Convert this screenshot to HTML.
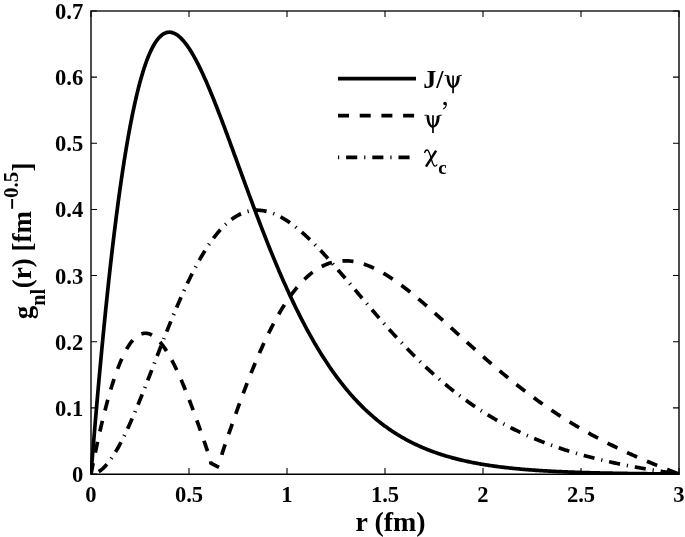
<!DOCTYPE html>
<html><head><meta charset="utf-8"><style>
html,body{margin:0;padding:0;background:#fff;width:685px;height:537px;overflow:hidden}
svg{display:block;will-change:transform}
.t{font-size:22.6px}
</style></head><body>
<svg width="685" height="537" viewBox="0 0 685 537">
<defs><clipPath id="cp"><rect x="90" y="10" width="590" height="465"/></clipPath></defs>
<rect width="685" height="537" fill="#fff"/>
<g fill="none" stroke="#000" stroke-linejoin="round">
<path d="M91 10.2V474M679 10.2V474M90.2 11H679.8" stroke-width="1.6" stroke="#222"/>
<path d="M90.2 474.3H679.8" stroke-width="1.4" stroke="#000"/>
<path d="M91.00 474V468M91.00 11V17M189.00 474V468M189.00 11V17M287.00 474V468M287.00 11V17M385.00 474V468M385.00 11V17M483.00 474V468M483.00 11V17M581.00 474V468M581.00 11V17M679.00 474V468M679.00 11V17M91 474.00H97M679 474.00H673M91 407.86H97M679 407.86H673M91 341.71H97M679 341.71H673M91 275.57H97M679 275.57H673M91 209.43H97M679 209.43H673M91 143.29H97M679 143.29H673M91 77.14H97M679 77.14H673M91 11.00H97M679 11.00H673" stroke-width="1.1"/>
<g clip-path="url(#cp)">
<path d="M91.00 474.00L91.98 461.82L92.96 449.81L93.94 437.97L94.92 426.31L95.90 414.82L96.88 403.51L97.86 392.38L98.84 381.42L99.82 370.65L100.80 360.05L101.78 349.63L102.76 339.40L103.74 329.35L104.72 319.47L105.70 309.78L106.68 300.28L107.66 290.95L108.64 281.81L109.62 272.85L110.60 264.07L111.58 255.47L112.56 247.06L113.54 238.83L114.52 230.77L115.50 222.90L116.48 215.21L117.46 207.70L118.44 200.37L119.42 193.21L120.40 186.23L121.38 179.43L122.36 172.80L123.34 166.35L124.32 160.07L125.30 153.96L126.28 148.02L127.26 142.25L128.24 136.65L129.22 131.22L130.20 125.96L131.18 120.85L132.16 115.91L133.14 111.14L134.12 106.52L135.10 102.06L136.08 97.76L137.06 93.61L138.04 89.62L139.02 85.78L140.00 82.09L140.98 78.54L141.96 75.15L142.94 71.90L143.92 68.79L144.90 65.83L145.88 63.00L146.86 60.31L147.84 57.76L148.82 55.35L149.80 53.06L150.78 50.91L151.76 48.88L152.74 46.98L153.72 45.21L154.70 43.56L155.68 42.03L156.66 40.62L157.64 39.32L158.62 38.14L159.60 37.08L160.58 36.12L161.56 35.28L162.54 34.54L163.52 33.91L164.50 33.38L165.48 32.95L166.46 32.62L167.44 32.39L168.42 32.26L169.40 32.21L170.38 32.27L171.36 32.41L172.34 32.64L173.32 32.95L174.30 33.35L175.28 33.84L176.26 34.40L177.24 35.04L178.22 35.76L179.20 36.56L180.18 37.42L181.16 38.37L182.14 39.38L183.12 40.45L184.10 41.60L185.08 42.81L186.06 44.08L187.04 45.42L188.02 46.81L189.00 48.26L189.98 49.77L190.96 51.34L191.94 52.95L192.92 54.62L193.90 56.34L194.88 58.11L195.86 59.92L196.84 61.78L197.82 63.69L198.80 65.64L199.78 67.63L200.76 69.65L201.74 71.72L202.72 73.83L203.70 75.97L204.68 78.14L205.66 80.35L206.64 82.59L207.62 84.86L208.60 87.16L209.58 89.48L210.56 91.84L211.54 94.22L212.52 96.62L213.50 99.05L214.48 101.50L215.46 103.97L216.44 106.46L217.42 108.97L218.40 111.49L219.38 114.04L220.36 116.60L221.34 119.17L222.32 121.76L223.30 124.36L224.28 126.97L225.26 129.60L226.24 132.23L227.22 134.87L228.20 137.53L229.18 140.18L230.16 142.85L231.14 145.52L232.12 148.20L233.10 150.88L234.08 153.56L235.06 156.25L236.04 158.94L237.02 161.63L238.00 164.32L238.98 167.01L239.96 169.70L240.94 172.39L241.92 175.08L242.90 177.76L243.88 180.45L244.86 183.12L245.84 185.80L246.82 188.47L247.80 191.13L248.78 193.79L249.76 196.44L250.74 199.09L251.72 201.72L252.70 204.36L253.68 206.98L254.66 209.59L255.64 212.20L256.62 214.79L257.60 217.38L258.58 219.95L259.56 222.52L260.54 225.07L261.52 227.61L262.50 230.15L263.48 232.66L264.46 235.17L265.44 237.67L266.42 240.15L267.40 242.62L268.38 245.07L269.36 247.52L270.34 249.95L271.32 252.36L272.30 254.76L273.28 257.15L274.26 259.52L275.24 261.88L276.22 264.22L277.20 266.55L278.18 268.86L279.16 271.15L280.14 273.43L281.12 275.70L282.10 277.95L283.08 280.18L284.06 282.40L285.04 284.60L286.02 286.78L287.00 288.95L287.98 291.10L288.96 293.24L289.94 295.35L290.92 297.46L291.90 299.54L292.88 301.61L293.86 303.66L294.84 305.69L295.82 307.71L296.80 309.71L297.78 311.69L298.76 313.66L299.74 315.61L300.72 317.54L301.70 319.46L302.68 321.35L303.66 323.23L304.64 325.10L305.62 326.94L306.60 328.77L307.58 330.59L308.56 332.38L309.54 334.16L310.52 335.92L311.50 337.67L312.48 339.39L313.46 341.10L314.44 342.80L315.42 344.48L316.40 346.14L317.38 347.78L318.36 349.41L319.34 351.02L320.32 352.62L321.30 354.19L322.28 355.76L323.26 357.30L324.24 358.83L325.22 360.35L326.20 361.84L327.18 363.33L328.16 364.79L329.14 366.24L330.12 367.68L331.10 369.10L332.08 370.50L333.06 371.89L334.04 373.26L335.02 374.62L336.00 375.96L336.98 377.29L337.96 378.60L338.94 379.90L339.92 381.18L340.90 382.45L341.88 383.70L342.86 384.94L343.84 386.17L344.82 387.38L345.80 388.58L346.78 389.76L347.76 390.93L348.74 392.08L349.72 393.23L350.70 394.35L351.68 395.47L352.66 396.57L353.64 397.66L354.62 398.73L355.60 399.79L356.58 400.84L357.56 401.88L358.54 402.90L359.52 403.91L360.50 404.91L361.48 405.90L362.46 406.87L363.44 407.83L364.42 408.78L365.40 409.72L366.38 410.65L367.36 411.56L368.34 412.47L369.32 413.36L370.30 414.24L371.28 415.11L372.26 415.96L373.24 416.81L374.22 417.65L375.20 418.47L376.18 419.29L377.16 420.09L378.14 420.88L379.12 421.67L380.10 422.44L381.08 423.20L382.06 423.95L383.04 424.70L384.02 425.43L385.00 426.15L385.98 426.86L386.96 427.57L387.94 428.26L388.92 428.95L389.90 429.62L390.88 430.29L391.86 430.95L392.84 431.60L393.82 432.24L394.80 432.87L395.78 433.49L396.76 434.10L397.74 434.71L398.72 435.31L399.70 435.90L400.68 436.48L401.66 437.05L402.64 437.62L403.62 438.17L404.60 438.72L405.58 439.26L406.56 439.80L407.54 440.33L408.52 440.84L409.50 441.36L410.48 441.86L411.46 442.36L412.44 442.85L413.42 443.33L414.40 443.81L415.38 444.28L416.36 444.74L417.34 445.20L418.32 445.65L419.30 446.09L420.28 446.53L421.26 446.96L422.24 447.39L423.22 447.81L424.20 448.22L425.18 448.63L426.16 449.03L427.14 449.42L428.12 449.81L429.10 450.19L430.08 450.57L431.06 450.94L432.04 451.31L433.02 451.67L434.00 452.03L434.98 452.38L435.96 452.72L436.94 453.06L437.92 453.40L438.90 453.73L439.88 454.06L440.86 454.38L441.84 454.69L442.82 455.00L443.80 455.31L444.78 455.61L445.76 455.91L446.74 456.20L447.72 456.49L448.70 456.78L449.68 457.06L450.66 457.33L451.64 457.60L452.62 457.87L453.60 458.13L454.58 458.39L455.56 458.65L456.54 458.90L457.52 459.15L458.50 459.39L459.48 459.63L460.46 459.87L461.44 460.10L462.42 460.33L463.40 460.56L464.38 460.78L465.36 461.00L466.34 461.21L467.32 461.42L468.30 461.63L469.28 461.84L470.26 462.04L471.24 462.24L472.22 462.44L473.20 462.63L474.18 462.82L475.16 463.01L476.14 463.19L477.12 463.37L478.10 463.55L479.08 463.73L480.06 463.90L481.04 464.07L482.02 464.24L483.00 464.40L483.98 464.56L484.96 464.72L485.94 464.88L486.92 465.03L487.90 465.19L488.88 465.34L489.86 465.48L490.84 465.63L491.82 465.77L492.80 465.91L493.78 466.05L494.76 466.19L495.74 466.32L496.72 466.45L497.70 466.58L498.68 466.71L499.66 466.83L500.64 466.96L501.62 467.08L502.60 467.20L503.58 467.32L504.56 467.43L505.54 467.55L506.52 467.66L507.50 467.77L508.48 467.88L509.46 467.98L510.44 468.09L511.42 468.19L512.40 468.29L513.38 468.39L514.36 468.49L515.34 468.59L516.32 468.68L517.30 468.77L518.28 468.87L519.26 468.96L520.24 469.05L521.22 469.13L522.20 469.22L523.18 469.30L524.16 469.39L525.14 469.47L526.12 469.55L527.10 469.63L528.08 469.71L529.06 469.78L530.04 469.86L531.02 469.93L532.00 470.01L532.98 470.08L533.96 470.15L534.94 470.22L535.92 470.29L536.90 470.35L537.88 470.42L538.86 470.48L539.84 470.55L540.82 470.61L541.80 470.67L542.78 470.73L543.76 470.79L544.74 470.85L545.72 470.91L546.70 470.97L547.68 471.02L548.66 471.08L549.64 471.13L550.62 471.18L551.60 471.24L552.58 471.29L553.56 471.34L554.54 471.39L555.52 471.44L556.50 471.48L557.48 471.53L558.46 471.58L559.44 471.62L560.42 471.67L561.40 471.71L562.38 471.75L563.36 471.80L564.34 471.84L565.32 471.88L566.30 471.92L567.28 471.96L568.26 472.00L569.24 472.04L570.22 472.08L571.20 472.11L572.18 472.15L573.16 472.19L574.14 472.22L575.12 472.26L576.10 472.29L577.08 472.32L578.06 472.36L579.04 472.39L580.02 472.42L581.00 472.45L581.98 472.48L582.96 472.51L583.94 472.54L584.92 472.57L585.90 472.60L586.88 472.63L587.86 472.66L588.84 472.69L589.82 472.71L590.80 472.74L591.78 472.77L592.76 472.79L593.74 472.82L594.72 472.84L595.70 472.87L596.68 472.89L597.66 472.91L598.64 472.94L599.62 472.96L600.60 472.98L601.58 473.00L602.56 473.03L603.54 473.05L604.52 473.07L605.50 473.09L606.48 473.11L607.46 473.13L608.44 473.15L609.42 473.17L610.40 473.19L611.38 473.21L612.36 473.22L613.34 473.24L614.32 473.26L615.30 473.28L616.28 473.30L617.26 473.31L618.24 473.33L619.22 473.35L620.20 473.36L621.18 473.38L622.16 473.39L623.14 473.41L624.12 473.42L625.10 473.44L626.08 473.45L627.06 473.47L628.04 473.48L629.02 473.50L630.00 473.51L630.98 473.52L631.96 473.54L632.94 473.55L633.92 473.56L634.90 473.58L635.88 473.59L636.86 473.60L637.84 473.61L638.82 473.62L639.80 473.64L640.78 473.65L641.76 473.66L642.74 473.67L643.72 473.68L644.70 473.69L645.68 473.70L646.66 473.71L647.64 473.73L648.62 473.74L649.60 473.75L650.58 473.76L651.56 473.77L652.54 473.78L653.52 473.79L654.50 473.79L655.48 473.80L656.46 473.81L657.44 473.82L658.42 473.83L659.40 473.84L660.38 473.85L661.36 473.86L662.34 473.87L663.32 473.88L664.30 473.88L665.28 473.89L666.26 473.90L667.24 473.91L668.22 473.92L669.20 473.92L670.18 473.93L671.16 473.94L672.14 473.95L673.12 473.96L674.10 473.96L675.08 473.97L676.06 473.98L677.04 473.99L678.02 473.99L679.00 474.00" stroke-width="3.7"/>
<path d="M91.00 474.00L91.98 468.99L92.96 464.07L93.94 459.22L94.92 454.45L95.90 449.77L96.88 445.16L97.86 440.65L98.84 436.21L99.82 431.87L100.80 427.61L101.78 423.44L102.76 419.36L103.74 415.37L104.72 411.47L105.70 407.67L106.68 403.95L107.66 400.33L108.64 396.81L109.62 393.37L110.60 390.04L111.58 386.79L112.56 383.65L113.54 380.60L114.52 377.64L115.50 374.78L116.48 372.02L117.46 369.36L118.44 366.79L119.42 364.32L120.40 361.95L121.38 359.67L122.36 357.49L123.34 355.41L124.32 353.42L125.30 351.53L126.28 349.73L127.26 348.03L128.24 346.43L129.22 344.92L130.20 343.51L131.18 342.19L132.16 340.96L133.14 339.83L134.12 338.79L135.10 337.84L136.08 336.98L137.06 336.21L138.04 335.53L139.02 334.94L140.00 334.44L140.98 334.03L141.96 333.71L142.94 333.47L143.92 333.31L144.90 333.24L145.88 333.25L146.86 333.35L147.84 333.52L148.82 333.78L149.80 334.11L150.78 334.53L151.76 335.02L152.74 335.58L153.72 336.23L154.70 336.94L155.68 337.73L156.66 338.59L157.64 339.52L158.62 340.52L159.60 341.59L160.58 342.73L161.56 343.93L162.54 345.19L163.52 346.52L164.50 347.91L165.48 349.36L166.46 350.88L167.44 352.45L168.42 354.07L169.40 355.76L170.38 357.49L171.36 359.28L172.34 361.13L173.32 363.02L174.30 364.96L175.28 366.95L176.26 368.99L177.24 371.07L178.22 373.20L179.20 375.37L180.18 377.58L181.16 379.84L182.14 382.13L183.12 384.46L184.10 386.83L185.08 389.23L186.06 391.67L187.04 394.14L188.02 396.64L189.00 399.17L189.98 401.73L190.96 404.32L191.94 406.93L192.92 409.57L193.90 412.24L194.88 414.93L195.86 417.64L196.84 420.37L197.82 423.12L198.80 425.89L199.78 428.68L200.76 431.48L201.74 434.30L202.72 437.14L203.70 439.98L204.68 442.84L205.66 445.71L206.64 448.59L207.62 451.48L208.60 454.37L209.58 457.27L210.56 460.18L210.80 463.10L219.00 467.40" stroke-width="3.7" stroke-dasharray="11 10.7"/>
<path d="M219.48 465.29L222.32 452.82L223.30 449.92L224.28 447.03L225.26 444.14L226.24 441.27L227.22 438.40L228.20 435.54L229.18 432.70L230.16 429.86L231.14 427.04L232.12 424.22L233.10 421.43L234.08 418.64L235.06 415.87L236.04 413.12L237.02 410.38L238.00 407.65L238.98 404.95L239.96 402.26L240.94 399.59L241.92 396.93L242.90 394.30L243.88 391.68L244.86 389.09L245.84 386.52L246.82 383.96L247.80 381.43L248.78 378.92L249.76 376.43L250.74 373.96L251.72 371.52L252.70 369.10L253.68 366.70L254.66 364.33L255.64 361.98L256.62 359.65L257.60 357.35L258.58 355.08L259.56 352.83L260.54 350.61L261.52 348.41L262.50 346.24L263.48 344.09L264.46 341.97L265.44 339.88L266.42 337.81L267.40 335.77L268.38 333.76L269.36 331.78L270.34 329.82L271.32 327.90L272.30 326.00L273.28 324.12L274.26 322.28L275.24 320.46L276.22 318.68L277.20 316.92L278.18 315.18L279.16 313.48L280.14 311.81L281.12 310.16L282.10 308.55L283.08 306.96L284.06 305.40L285.04 303.87L286.02 302.36L287.00 300.89L287.98 299.44L288.96 298.03L289.94 296.64L290.92 295.28L291.90 293.95L292.88 292.64L293.86 291.37L294.84 290.12L295.82 288.90L296.80 287.71L297.78 286.55L298.76 285.42L299.74 284.31L300.72 283.23L301.70 282.18L302.68 281.15L303.66 280.16L304.64 279.19L305.62 278.25L306.60 277.33L307.58 276.44L308.56 275.58L309.54 274.75L310.52 273.94L311.50 273.15L312.48 272.40L313.46 271.67L314.44 270.96L315.42 270.28L316.40 269.63L317.38 269.00L318.36 268.39L319.34 267.81L320.32 267.26L321.30 266.73L322.28 266.22L323.26 265.74L324.24 265.28L325.22 264.85L326.20 264.44L327.18 264.05L328.16 263.68L329.14 263.34L330.12 263.02L331.10 262.72L332.08 262.45L333.06 262.19L334.04 261.96L335.02 261.75L336.00 261.56L336.98 261.39L337.96 261.25L338.94 261.12L339.92 261.02L340.90 260.93L341.88 260.86L342.86 260.82L343.84 260.79L344.82 260.78L345.80 260.79L346.78 260.82L347.76 260.87L348.74 260.94L349.72 261.02L350.70 261.13L351.68 261.25L352.66 261.38L353.64 261.54L354.62 261.71L355.60 261.90L356.58 262.10L357.56 262.32L358.54 262.56L359.52 262.81L360.50 263.08L361.48 263.37L362.46 263.67L363.44 263.98L364.42 264.31L365.40 264.65L366.38 265.01L367.36 265.38L368.34 265.76L369.32 266.16L370.30 266.57L371.28 267.00L372.26 267.43L373.24 267.88L374.22 268.35L375.20 268.82L376.18 269.31L377.16 269.81L378.14 270.32L379.12 270.84L380.10 271.37L381.08 271.91L382.06 272.47L383.04 273.03L384.02 273.61L385.00 274.19L385.98 274.79L386.96 275.39L387.94 276.01L388.92 276.63L389.90 277.26L390.88 277.91L391.86 278.56L392.84 279.22L393.82 279.88L394.80 280.56L395.78 281.24L396.76 281.94L397.74 282.63L398.72 283.34L399.70 284.06L400.68 284.78L401.66 285.51L402.64 286.24L403.62 286.98L404.60 287.73L405.58 288.48L406.56 289.25L407.54 290.01L408.52 290.78L409.50 291.56L410.48 292.34L411.46 293.13L412.44 293.93L413.42 294.73L414.40 295.53L415.38 296.34L416.36 297.15L417.34 297.97L418.32 298.79L419.30 299.61L420.28 300.44L421.26 301.28L422.24 302.11L423.22 302.95L424.20 303.80L425.18 304.65L426.16 305.50L427.14 306.35L428.12 307.21L429.10 308.06L430.08 308.93L431.06 309.79L432.04 310.66L433.02 311.53L434.00 312.40L434.98 313.27L435.96 314.14L436.94 315.02L437.92 315.90L438.90 316.78L439.88 317.66L440.86 318.54L441.84 319.43L442.82 320.31L443.80 321.20L444.78 322.09L445.76 322.97L446.74 323.86L447.72 324.75L448.70 325.64L449.68 326.53L450.66 327.42L451.64 328.32L452.62 329.21L453.60 330.10L454.58 330.99L455.56 331.88L456.54 332.77L457.52 333.66L458.50 334.56L459.48 335.45L460.46 336.34L461.44 337.23L462.42 338.11L463.40 339.00L464.38 339.89L465.36 340.78L466.34 341.66L467.32 342.55L468.30 343.43L469.28 344.31L470.26 345.20L471.24 346.08L472.22 346.96L473.20 347.83L474.18 348.71L475.16 349.59L476.14 350.46L477.12 351.33L478.10 352.20L479.08 353.07L480.06 353.94L481.04 354.80L482.02 355.66L483.00 356.53L483.98 357.39L484.96 358.24L485.94 359.10L486.92 359.95L487.90 360.80L488.88 361.65L489.86 362.50L490.84 363.34L491.82 364.19L492.80 365.03L493.78 365.87L494.76 366.70L495.74 367.53L496.72 368.36L497.70 369.19L498.68 370.02L499.66 370.84L500.64 371.66L501.62 372.48L502.60 373.30L503.58 374.11L504.56 374.92L505.54 375.73L506.52 376.53L507.50 377.33L508.48 378.13L509.46 378.93L510.44 379.72L511.42 380.51L512.40 381.30L513.38 382.08L514.36 382.86L515.34 383.64L516.32 384.42L517.30 385.19L518.28 385.96L519.26 386.73L520.24 387.49L521.22 388.25L522.20 389.01L523.18 389.77L524.16 390.52L525.14 391.27L526.12 392.01L527.10 392.75L528.08 393.49L529.06 394.23L530.04 394.96L531.02 395.69L532.00 396.42L532.98 397.14L533.96 397.86L534.94 398.58L535.92 399.29L536.90 400.01L537.88 400.71L538.86 401.42L539.84 402.12L540.82 402.82L541.80 403.51L542.78 404.20L543.76 404.89L544.74 405.58L545.72 406.26L546.70 406.94L547.68 407.61L548.66 408.29L549.64 408.96L550.62 409.62L551.60 410.29L552.58 410.95L553.56 411.60L554.54 412.26L555.52 412.91L556.50 413.55L557.48 414.20L558.46 414.84L559.44 415.48L560.42 416.11L561.40 416.74L562.38 417.37L563.36 417.99L564.34 418.62L565.32 419.23L566.30 419.85L567.28 420.46L568.26 421.07L569.24 421.68L570.22 422.28L571.20 422.88L572.18 423.48L573.16 424.07L574.14 424.67L575.12 425.25L576.10 425.84L577.08 426.42L578.06 427.00L579.04 427.58L580.02 428.15L581.00 428.72L581.98 429.29L582.96 429.85L583.94 430.41L584.92 430.97L585.90 431.53L586.88 432.08L587.86 432.63L588.84 433.18L589.82 433.72L590.80 434.27L591.78 434.81L592.76 435.34L593.74 435.87L594.72 436.41L595.70 436.93L596.68 437.46L597.66 437.98L598.64 438.50L599.62 439.02L600.60 439.53L601.58 440.05L602.56 440.55L603.54 441.06L604.52 441.57L605.50 442.07L606.48 442.57L607.46 443.06L608.44 443.56L609.42 444.05L610.40 444.54L611.38 445.02L612.36 445.51L613.34 445.99L614.32 446.47L615.30 446.95L616.28 447.42L617.26 447.90L618.24 448.37L619.22 448.83L620.20 449.30L621.18 449.76L622.16 450.22L623.14 450.68L624.12 451.14L625.10 451.59L626.08 452.05L627.06 452.50L628.04 452.95L629.02 453.39L630.00 453.84L630.98 454.28L631.96 454.72L632.94 455.16L633.92 455.59L634.90 456.03L635.88 456.46L636.86 456.89L637.84 457.32L638.82 457.75L639.80 458.17L640.78 458.60L641.76 459.02L642.74 459.44L643.72 459.86L644.70 460.27L645.68 460.69L646.66 461.10L647.64 461.51L648.62 461.92L649.60 462.33L650.58 462.74L651.56 463.15L652.54 463.55L653.52 463.95L654.50 464.35L655.48 464.75L656.46 465.15L657.44 465.55L658.42 465.94L659.40 466.34L660.38 466.73L661.36 467.12L662.34 467.51L663.32 467.90L664.30 468.29L665.28 468.68L666.26 469.07L667.24 469.45L668.22 469.84L669.20 470.22L670.18 470.60L671.16 470.98L672.14 471.36L673.12 471.74L674.10 472.12L675.08 472.50L676.06 472.87L677.04 473.25L678.02 473.63L679.00 474.00" stroke-width="3.7" stroke-dasharray="11 10.7" stroke-dashoffset="11"/>
<path d="M91.00 474.00L91.98 473.96L92.96 473.84L93.94 473.64L94.92 473.37L95.90 473.02L96.88 472.60L97.86 472.10L98.84 471.53L99.82 470.89L100.80 470.18L101.78 469.40L102.76 468.56L103.74 467.65L104.72 466.67L105.70 465.63L106.68 464.53L107.66 463.37L108.64 462.15L109.62 460.88L110.60 459.54L111.58 458.15L112.56 456.71L113.54 455.21L114.52 453.66L115.50 452.07L116.48 450.42L117.46 448.73L118.44 446.99L119.42 445.20L120.40 443.38L121.38 441.51L122.36 439.60L123.34 437.65L124.32 435.66L125.30 433.64L126.28 431.58L127.26 429.49L128.24 427.37L129.22 425.21L130.20 423.03L131.18 420.81L132.16 418.57L133.14 416.31L134.12 414.02L135.10 411.70L136.08 409.36L137.06 407.01L138.04 404.63L139.02 402.23L140.00 399.82L140.98 397.39L141.96 394.94L142.94 392.49L143.92 390.02L144.90 387.53L145.88 385.04L146.86 382.54L147.84 380.03L148.82 377.52L149.80 375.00L150.78 372.47L151.76 369.94L152.74 367.41L153.72 364.87L154.70 362.34L155.68 359.81L156.66 357.27L157.64 354.74L158.62 352.22L159.60 349.69L160.58 347.18L161.56 344.67L162.54 342.16L163.52 339.67L164.50 337.18L165.48 334.70L166.46 332.24L167.44 329.78L168.42 327.34L169.40 324.91L170.38 322.49L171.36 320.09L172.34 317.70L173.32 315.33L174.30 312.98L175.28 310.64L176.26 308.32L177.24 306.02L178.22 303.73L179.20 301.47L180.18 299.23L181.16 297.00L182.14 294.80L183.12 292.63L184.10 290.47L185.08 288.34L186.06 286.23L187.04 284.14L188.02 282.08L189.00 280.04L189.98 278.03L190.96 276.04L191.94 274.08L192.92 272.15L193.90 270.24L194.88 268.36L195.86 266.51L196.84 264.68L197.82 262.89L198.80 261.12L199.78 259.38L200.76 257.67L201.74 255.99L202.72 254.33L203.70 252.71L204.68 251.12L205.66 249.55L206.64 248.02L207.62 246.52L208.60 245.05L209.58 243.60L210.56 242.19L211.54 240.81L212.52 239.46L213.50 238.14L214.48 236.86L215.46 235.60L216.44 234.37L217.42 233.18L218.40 232.02L219.38 230.88L220.36 229.78L221.34 228.71L222.32 227.68L223.30 226.67L224.28 225.69L225.26 224.75L226.24 223.83L227.22 222.95L228.20 222.10L229.18 221.28L230.16 220.49L231.14 219.73L232.12 219.00L233.10 218.30L234.08 217.63L235.06 216.99L236.04 216.38L237.02 215.80L238.00 215.25L238.98 214.74L239.96 214.25L240.94 213.78L241.92 213.35L242.90 212.95L243.88 212.57L244.86 212.23L245.84 211.91L246.82 211.62L247.80 211.36L248.78 211.12L249.76 210.92L250.74 210.74L251.72 210.58L252.70 210.46L253.68 210.36L254.66 210.28L255.64 210.24L256.62 210.21L257.60 210.22L258.58 210.25L259.56 210.30L260.54 210.38L261.52 210.48L262.50 210.61L263.48 210.76L264.46 210.93L265.44 211.13L266.42 211.35L267.40 211.59L268.38 211.85L269.36 212.14L270.34 212.45L271.32 212.78L272.30 213.13L273.28 213.50L274.26 213.89L275.24 214.31L276.22 214.74L277.20 215.19L278.18 215.67L279.16 216.16L280.14 216.67L281.12 217.20L282.10 217.75L283.08 218.31L284.06 218.89L285.04 219.49L286.02 220.11L287.00 220.75L287.98 221.40L288.96 222.06L289.94 222.75L290.92 223.44L291.90 224.16L292.88 224.89L293.86 225.63L294.84 226.39L295.82 227.16L296.80 227.94L297.78 228.74L298.76 229.55L299.74 230.38L300.72 231.22L301.70 232.07L302.68 232.93L303.66 233.80L304.64 234.69L305.62 235.59L306.60 236.49L307.58 237.41L308.56 238.34L309.54 239.28L310.52 240.23L311.50 241.19L312.48 242.16L313.46 243.14L314.44 244.12L315.42 245.12L316.40 246.12L317.38 247.13L318.36 248.15L319.34 249.18L320.32 250.21L321.30 251.25L322.28 252.30L323.26 253.36L324.24 254.42L325.22 255.48L326.20 256.56L327.18 257.64L328.16 258.72L329.14 259.81L330.12 260.91L331.10 262.01L332.08 263.11L333.06 264.22L334.04 265.33L335.02 266.45L336.00 267.57L336.98 268.69L337.96 269.82L338.94 270.95L339.92 272.09L340.90 273.22L341.88 274.36L342.86 275.50L343.84 276.65L344.82 277.79L345.80 278.94L346.78 280.09L347.76 281.24L348.74 282.39L349.72 283.55L350.70 284.70L351.68 285.86L352.66 287.01L353.64 288.17L354.62 289.33L355.60 290.49L356.58 291.64L357.56 292.80L358.54 293.96L359.52 295.11L360.50 296.27L361.48 297.43L362.46 298.58L363.44 299.73L364.42 300.89L365.40 302.04L366.38 303.19L367.36 304.34L368.34 305.49L369.32 306.63L370.30 307.78L371.28 308.92L372.26 310.06L373.24 311.20L374.22 312.33L375.20 313.47L376.18 314.60L377.16 315.73L378.14 316.86L379.12 317.98L380.10 319.10L381.08 320.22L382.06 321.33L383.04 322.44L384.02 323.55L385.00 324.66L385.98 325.76L386.96 326.86L387.94 327.96L388.92 329.05L389.90 330.14L390.88 331.22L391.86 332.30L392.84 333.38L393.82 334.45L394.80 335.52L395.78 336.59L396.76 337.65L397.74 338.71L398.72 339.76L399.70 340.81L400.68 341.85L401.66 342.89L402.64 343.93L403.62 344.96L404.60 345.99L405.58 347.01L406.56 348.03L407.54 349.04L408.52 350.05L409.50 351.05L410.48 352.05L411.46 353.05L412.44 354.04L413.42 355.02L414.40 356.00L415.38 356.98L416.36 357.95L417.34 358.91L418.32 359.87L419.30 360.83L420.28 361.78L421.26 362.72L422.24 363.66L423.22 364.60L424.20 365.53L425.18 366.45L426.16 367.37L427.14 368.29L428.12 369.20L429.10 370.10L430.08 371.00L431.06 371.90L432.04 372.78L433.02 373.67L434.00 374.55L434.98 375.42L435.96 376.29L436.94 377.15L437.92 378.01L438.90 378.86L439.88 379.71L440.86 380.55L441.84 381.38L442.82 382.22L443.80 383.04L444.78 383.86L445.76 384.68L446.74 385.49L447.72 386.29L448.70 387.09L449.68 387.89L450.66 388.68L451.64 389.46L452.62 390.24L453.60 391.01L454.58 391.78L455.56 392.55L456.54 393.30L457.52 394.06L458.50 394.81L459.48 395.55L460.46 396.29L461.44 397.02L462.42 397.75L463.40 398.47L464.38 399.19L465.36 399.90L466.34 400.60L467.32 401.31L468.30 402.00L469.28 402.70L470.26 403.38L471.24 404.07L472.22 404.74L473.20 405.42L474.18 406.08L475.16 406.75L476.14 407.40L477.12 408.06L478.10 408.70L479.08 409.35L480.06 409.99L481.04 410.62L482.02 411.25L483.00 411.87L483.98 412.49L484.96 413.11L485.94 413.72L486.92 414.32L487.90 414.92L488.88 415.52L489.86 416.11L490.84 416.70L491.82 417.28L492.80 417.86L493.78 418.43L494.76 419.00L495.74 419.57L496.72 420.13L497.70 420.69L498.68 421.24L499.66 421.79L500.64 422.33L501.62 422.87L502.60 423.40L503.58 423.93L504.56 424.46L505.54 424.98L506.52 425.50L507.50 426.01L508.48 426.52L509.46 427.03L510.44 427.53L511.42 428.03L512.40 428.52L513.38 429.01L514.36 429.50L515.34 429.98L516.32 430.46L517.30 430.93L518.28 431.40L519.26 431.87L520.24 432.33L521.22 432.79L522.20 433.24L523.18 433.69L524.16 434.14L525.14 434.59L526.12 435.03L527.10 435.46L528.08 435.90L529.06 436.33L530.04 436.75L531.02 437.18L532.00 437.59L532.98 438.01L533.96 438.42L534.94 438.83L535.92 439.24L536.90 439.64L537.88 440.04L538.86 440.43L539.84 440.83L540.82 441.22L541.80 441.60L542.78 441.98L543.76 442.36L544.74 442.74L545.72 443.11L546.70 443.48L547.68 443.85L548.66 444.21L549.64 444.58L550.62 444.93L551.60 445.29L552.58 445.64L553.56 445.99L554.54 446.34L555.52 446.68L556.50 447.02L557.48 447.36L558.46 447.69L559.44 448.02L560.42 448.35L561.40 448.68L562.38 449.00L563.36 449.33L564.34 449.64L565.32 449.96L566.30 450.27L567.28 450.58L568.26 450.89L569.24 451.20L570.22 451.50L571.20 451.80L572.18 452.10L573.16 452.40L574.14 452.69L575.12 452.98L576.10 453.27L577.08 453.56L578.06 453.84L579.04 454.12L580.02 454.40L581.00 454.68L581.98 454.95L582.96 455.22L583.94 455.49L584.92 455.76L585.90 456.03L586.88 456.29L587.86 456.55L588.84 456.81L589.82 457.07L590.80 457.32L591.78 457.58L592.76 457.83L593.74 458.08L594.72 458.33L595.70 458.57L596.68 458.81L597.66 459.05L598.64 459.29L599.62 459.53L600.60 459.77L601.58 460.00L602.56 460.23L603.54 460.46L604.52 460.69L605.50 460.92L606.48 461.14L607.46 461.37L608.44 461.59L609.42 461.81L610.40 462.02L611.38 462.24L612.36 462.45L613.34 462.67L614.32 462.88L615.30 463.09L616.28 463.30L617.26 463.50L618.24 463.71L619.22 463.91L620.20 464.11L621.18 464.31L622.16 464.51L623.14 464.71L624.12 464.90L625.10 465.10L626.08 465.29L627.06 465.48L628.04 465.67L629.02 465.86L630.00 466.05L630.98 466.24L631.96 466.42L632.94 466.60L633.92 466.79L634.90 466.97L635.88 467.15L636.86 467.33L637.84 467.50L638.82 467.68L639.80 467.85L640.78 468.03L641.76 468.20L642.74 468.37L643.72 468.54L644.70 468.71L645.68 468.88L646.66 469.04L647.64 469.21L648.62 469.37L649.60 469.54L650.58 469.70L651.56 469.86L652.54 470.02L653.52 470.18L654.50 470.34L655.48 470.49L656.46 470.65L657.44 470.81L658.42 470.96L659.40 471.11L660.38 471.27L661.36 471.42L662.34 471.57L663.32 471.72L664.30 471.87L665.28 472.01L666.26 472.16L667.24 472.31L668.22 472.45L669.20 472.60L670.18 472.74L671.16 472.88L672.14 473.03L673.12 473.17L674.10 473.31L675.08 473.45L676.06 473.59L677.04 473.73L678.02 473.86L679.00 474.00" stroke-width="3.7" stroke-dasharray="1.2 6.93 11.11 6.93"/>
</g>
<path d="M338 78.6H416" stroke-width="3.7"/>
<path d="M338 115.6H416" stroke-width="3.7" stroke-dasharray="11 10.7"/>
<path d="M338 157.4H416" stroke-width="3.7" stroke-dasharray="1.2 6.93 11.11 6.93"/>
</g>
<g font-family="Liberation Serif" font-weight="bold" fill="#000">
<text x="91.00" y="501.7" text-anchor="middle" class="t">0</text><text x="189.00" y="501.7" text-anchor="middle" class="t">0.5</text><text x="287.00" y="501.7" text-anchor="middle" class="t">1</text><text x="385.00" y="501.7" text-anchor="middle" class="t">1.5</text><text x="483.00" y="501.7" text-anchor="middle" class="t">2</text><text x="581.00" y="501.7" text-anchor="middle" class="t">2.5</text><text x="679.00" y="501.7" text-anchor="middle" class="t">3</text><text x="83.2" y="482.00" text-anchor="end" class="t">0</text><text x="83.2" y="415.86" text-anchor="end" class="t">0.1</text><text x="83.2" y="349.71" text-anchor="end" class="t">0.2</text><text x="83.2" y="283.57" text-anchor="end" class="t">0.3</text><text x="83.2" y="217.43" text-anchor="end" class="t">0.4</text><text x="83.2" y="151.29" text-anchor="end" class="t">0.5</text><text x="83.2" y="85.14" text-anchor="end" class="t">0.6</text><text x="83.2" y="19.00" text-anchor="end" class="t">0.7</text>
<text x="423.3" y="88" font-size="26">J/</text>
<g transform="translate(444.3 74.9)" fill="none" stroke="#000" stroke-linecap="butt">
<path d="M8.76 0.65V18.3" stroke-width="1.7"/>
<path d="M2.27 1.0L2.5 4.0L2.94 6.69L3.84 9.38L5.18 11.39L6.97 12.73L8.76 13.18L8.76 11.61L7.42 10.49L6.52 8.93L5.63 6.69L5.18 4.0L4.96 1.0Z" fill="#000" stroke="none"/>
<path d="M15.47 1.1L15.24 4.0L14.8 6.69L13.9 9.15L12.56 10.94L10.77 12.28L8.76 12.95L8.76 11.61L10.32 10.27L11.22 8.7L11.89 6.69L12.33 4.0L12.56 1.6Z" fill="#000" stroke="none"/>
<path d="M0.3 0.6C1.5 0.4 3 0.5 4.6 1.1" stroke-width="1.0"/>
<path d="M12.6 1.8C14 0.9 15.8 0.45 17.5 0.45" stroke-width="1.0"/>
</g>
<g transform="translate(424.2 114.7)" fill="none" stroke="#000" stroke-linecap="butt">
<path d="M8.76 0.65V18.3" stroke-width="1.7"/>
<path d="M2.27 1.0L2.5 4.0L2.94 6.69L3.84 9.38L5.18 11.39L6.97 12.73L8.76 13.18L8.76 11.61L7.42 10.49L6.52 8.93L5.63 6.69L5.18 4.0L4.96 1.0Z" fill="#000" stroke="none"/>
<path d="M15.47 1.1L15.24 4.0L14.8 6.69L13.9 9.15L12.56 10.94L10.77 12.28L8.76 12.95L8.76 11.61L10.32 10.27L11.22 8.7L11.89 6.69L12.33 4.0L12.56 1.6Z" fill="#000" stroke="none"/>
<path d="M0.3 0.6C1.5 0.4 3 0.5 4.6 1.1" stroke-width="1.0"/>
<path d="M12.6 1.8C14 0.9 15.8 0.45 17.5 0.45" stroke-width="1.0"/>
</g>
<circle cx="445.0" cy="103.6" r="1.75"/><path d="M446.4 104.2Q446.3 107.2 443.2 109.0" fill="none" stroke="#000" stroke-width="1.1"/>
<g transform="translate(424.2 148.8)" fill="none" stroke="#000">
<path d="M11.9 1.9L1.8 17.9" stroke-width="2.5"/>
<path d="M0.3 4.2C0.8 2.2 1.8 1.2 2.8 1.2C4.2 1.2 5 3.5 5.9 6.1L7.6 11.7C8.4 14.5 9.1 17.1 10.9 17.3C11.9 17.4 12.6 16.5 12.9 15.6" stroke-width="1.3"/>
</g>
<text x="438.15" y="173.8" font-size="19">c</text>
<text transform="translate(355.55 530.9) scale(1.035 1)" font-size="27">r (fm)</text>
<g transform="rotate(-90)">
<text x="-319.2" y="31.5" font-size="27">g</text>
<text x="-305.7" y="45.2" font-size="20">nl</text>
<text x="-288.2" y="31.2" font-size="27">(r) [fm</text>
<text x="-198.0" y="17.5" font-size="21">0.5</text>
<text x="-171.6" y="31.2" font-size="27">]</text>
</g>
<rect x="11.2" y="199" width="1.9" height="9.8"/>
</g>
</svg>
</body></html>
